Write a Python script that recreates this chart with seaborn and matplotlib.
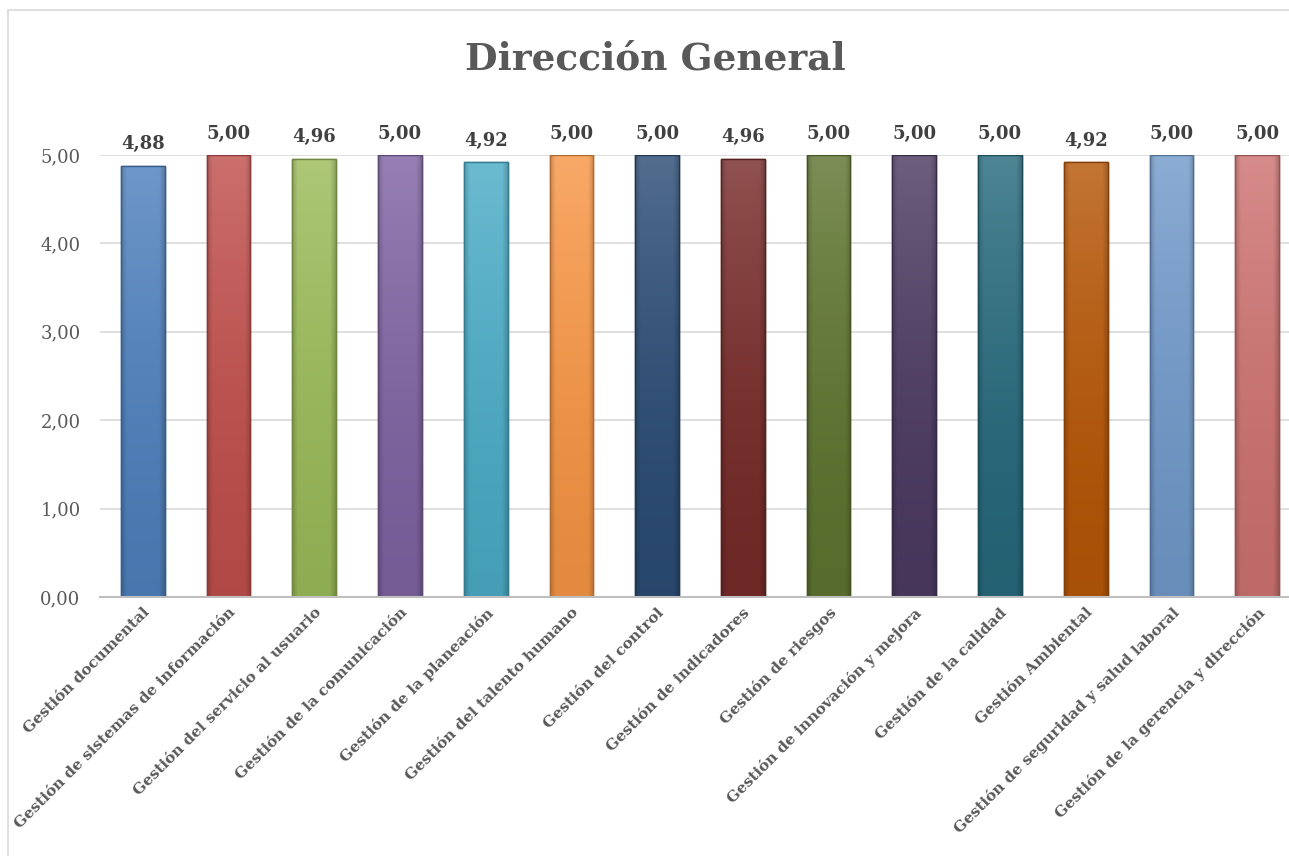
import matplotlib
matplotlib.use("Agg")
import matplotlib.pyplot as plt
import seaborn as sns
import numpy as np
import pandas as pd
from matplotlib.patches import Rectangle
from matplotlib.colors import to_rgb, to_hex

categories = [
    "Gestión documental",
    "Gestión de sistemas de información",
    "Gestión del servicio al usuario",
    "Gestión de la comunicación",
    "Gestión de la planeación",
    "Gestión del talento humano",
    "Gestión del control",
    "Gestión de indicadores",
    "Gestión de riesgos",
    "Gestión de innovación y mejora",
    "Gestión de la calidad",
    "Gestión Ambiental",
    "Gestión de seguridad y salud laboral",
    "Gestión de la gerencia y dirección",
]
values = [4.88, 5.00, 4.96, 5.00, 4.92, 5.00, 5.00, 4.96, 5.00, 5.00, 5.00, 4.92, 5.00, 5.00]
colors = ["#4F81BD", "#C0504D", "#9BBB59", "#8064A2", "#4BACC6", "#F79646",
          "#2C4D75", "#772C2A", "#5F7530", "#4D3B62", "#276A7C", "#B65708",
          "#729ACA", "#CD7371"]
yticks = [0, 1, 2, 3, 4, 5]
title = "Dirección General"

sns.set_theme(style="white")
plt.rcParams['font.family'] = ['DejaVu Serif']

W, H = 1289, 856
fig = plt.figure(figsize=(W / 100, H / 100), dpi=100)
fig.patches.append(Rectangle((8 / W, -0.1), 1.2, 1.1 - 10 / H, transform=fig.transFigure,
                             fill=False, edgecolor="#D9D9D9", linewidth=1.2))

left, right = 100 / W, 1300 / W
bottom, top = (H - 597) / H, (H - 155) / H
ax = fig.add_axes([left, bottom, right - left, top - bottom])

df = pd.DataFrame({"cat": categories, "val": values})
sns.barplot(data=df, x="cat", y="val", hue="cat", palette=colors, legend=False,
            width=0.51, ax=ax, saturation=1)

# subtle gradient shading clipped to each bar
ny, nx = 200, 40
tv = np.linspace(0, 1, ny)[:, None]          # 0 bottom -> 1 top
xf = np.linspace(0, 1, nx)[None, :]
edge = np.clip(1 - np.minimum(xf, 1 - xf) / 0.12, 0, 1)
for p, c in zip(list(ax.patches), colors):
    rgb = np.array(to_rgb(c))
    x0, y0 = p.get_x(), p.get_y()
    w, h = p.get_width(), p.get_height()
    base = rgb[None, None, :] * (0.92 + 0.08 * tv[..., None])
    base = base + (1 - base) * (0.18 * tv[..., None] ** 2)
    base = base * (1 - 0.18 * edge[..., None])
    img = ax.imshow(np.clip(base, 0, 1)[::-1], extent=(x0, x0 + w, y0, y0 + h),
                    aspect="auto", zorder=p.get_zorder() + 0.1, interpolation="bilinear")
    img.set_clip_path(p)
    p.set_edgecolor(to_hex(rgb * 0.72))
    p.set_linewidth(1.0)
    outline = Rectangle((x0, y0), w, h, fill=False, edgecolor=to_hex(rgb * 0.72),
                        linewidth=1.0, zorder=p.get_zorder() + 0.2)
    ax.add_patch(outline)

ax.set_xlim(-0.5, len(categories) - 0.5)
ax.set_ylim(0, 5)
ax.set_yticks(yticks)
ax.set_yticklabels([f"{t:.2f}".replace(".", ",") for t in yticks], fontsize=13, color="#595959")
ax.yaxis.grid(True, color="#D9D9D9", linewidth=1.2)
ax.set_axisbelow(True)
for s in ["left", "right", "top"]:
    ax.spines[s].set_visible(False)
ax.spines["bottom"].set_color("#BFBFBF")
ax.spines["bottom"].set_linewidth(1.5)
ax.tick_params(axis="y", length=0, pad=14)
ax.tick_params(axis="x", length=0, pad=6)
ax.set_xlabel("")
ax.set_ylabel("")

ax.set_xticks(range(len(categories)))
ax.set_xticklabels(categories, rotation=45, ha="right", va="top", rotation_mode="anchor",
                   fontsize=11, fontweight="bold", color="#595959")

for i, v in enumerate(values):
    ax.annotate(f"{v:.2f}".replace(".", ","), (i, v), xytext=(0, 9), textcoords="offset points",
                ha="center", va="bottom", fontsize=13, fontweight="bold", color="#404040",
                annotation_clip=False)

fig.text(655 / W, 1 - 59 / H, title, ha="center", va="center", fontsize=27,
         fontweight="bold", color="#595959")

fig.savefig("out.png", dpi=100)
